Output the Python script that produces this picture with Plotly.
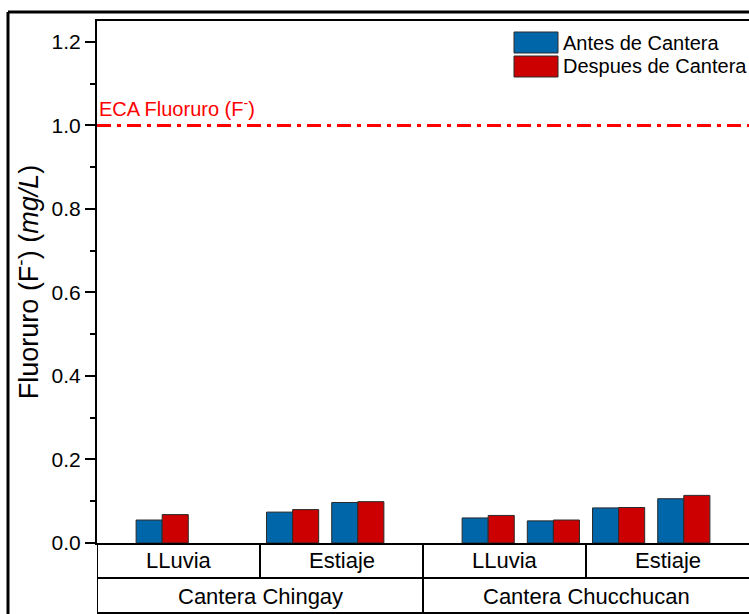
import plotly.graph_objects as go

# ---- data ----
slot_x = [1, 2, 3, 4, 6, 7, 8, 9]
antes = [0.055, None, 0.074, 0.097, 0.060, 0.053, 0.084, 0.106]
despues = [0.068, None, 0.080, 0.099, 0.066, 0.055, 0.085, 0.114]
sub_labels = ["LLuvia", "Estiaje", "LLuvia", "Estiaje"]
sub_bounds = [0, 2.5, 5, 7.5, 10]
main_labels = ["Cantera Chingay", "Cantera Chucchucan"]
main_bounds = [0, 5, 10]
series_names = ["Antes de Cantera", "Despues de Cantera"]
series_colors = ["#0066AA", "#CC0000"]
eca_value = 1.0
eca_label = "ECA Fluoruro (F<sup>-</sup>)"
y_ticks = [0.0, 0.2, 0.4, 0.6, 0.8, 1.0, 1.2]

W, H = 749, 614
L, T, R, B = 97, 21, 0, 71
pw, ph = W - L - R, H - T - B

FONT = "Liberation Sans, Arial, sans-serif"

fig = go.Figure()
for name, vals, col in zip(series_names, [antes, despues], series_colors):
    fig.add_trace(go.Bar(
        x=slot_x, y=vals, name=name, marker_color=col,
        marker_line=dict(color="#2a2a2a", width=1), showlegend=False))

fig.update_layout(
    width=W, height=H, barmode="group", bargap=0.2, bargroupgap=0,
    margin=dict(l=L, r=R, t=T, b=B, pad=0, autoexpand=False),
    paper_bgcolor="white", plot_bgcolor="white",
    font=dict(family=FONT, color="black"),
)
fig.update_xaxes(range=[0, 10], showgrid=False, zeroline=False, showticklabels=False,
                 showline=True, linecolor="black", linewidth=2, mirror=True, ticks="")
fig.update_yaxes(range=[0, 1.25], showgrid=False, zeroline=False, tickvals=y_ticks,
                 ticktext=[f"{v:.1f}" for v in y_ticks], ticks="outside", ticklen=10,
                 tickwidth=2, tickcolor="black", showline=True, linecolor="black",
                 linewidth=2, mirror=False, tickfont=dict(size=21, family=FONT),
                 automargin=False,
                 minor=dict(tickvals=[0.1, 0.3, 0.5, 0.7, 0.9, 1.1], ticks="outside",
                            ticklen=5, tickwidth=2, tickcolor="black"),
                 title=dict(text="Fluoruro (F<sup>-</sup>) (<i>mg/L</i>)",
                            font=dict(size=27, family=FONT), standoff=5))

# ECA reference line
fig.add_shape(type="line", xref="paper", yref="y", x0=0, x1=1, y0=eca_value, y1=eca_value,
              line=dict(color="#FF0000", width=3, dash="14px,6px,4px,6px"))
fig.add_annotation(xref="paper", yref="y", x=0, y=eca_value, text=eca_label,
                   showarrow=False, xanchor="left", yanchor="bottom", xshift=0, yshift=3,
                   font=dict(size=20, color="#FF0000", family=FONT))

# hierarchical category table below the axis
def py(pix):  # pixel y from top -> paper
    return (H - B - pix) / ph

def px(pix):
    return (pix - L) / pw

row1_bot, row2_bot = 578, 614
line = dict(color="black", width=2)
fig.add_shape(type="line", xref="paper", yref="paper", x0=0, x1=1,
              y0=py(row1_bot), y1=py(row1_bot), line=line)
fig.add_shape(type="line", xref="paper", yref="paper", x0=0, x1=1,
              y0=py(row2_bot - 1), y1=py(row2_bot - 1), line=line)
for b in sub_bounds[:-1]:
    fig.add_shape(type="line", xref="x", yref="paper", x0=b, x1=b,
                  y0=0, y1=py(row1_bot), line=line)
for b in main_bounds[:-1]:
    fig.add_shape(type="line", xref="x", yref="paper", x0=b, x1=b,
                  y0=py(row1_bot), y1=py(row2_bot), line=line)
for i, lab in enumerate(sub_labels):
    fig.add_annotation(xref="x", yref="paper", x=(sub_bounds[i] + sub_bounds[i + 1]) / 2,
                       y=py((543 + row1_bot) / 2), text=lab, showarrow=False,
                       xanchor="center", yanchor="middle",
                       font=dict(size=22, family=FONT))
for i, lab in enumerate(main_labels):
    fig.add_annotation(xref="x", yref="paper", x=(main_bounds[i] + main_bounds[i + 1]) / 2,
                       y=py((row1_bot + row2_bot) / 2), text=lab, showarrow=False,
                       xanchor="center", yanchor="middle",
                       font=dict(size=22, family=FONT))

# outer frame
fig.add_shape(type="line", xref="paper", yref="paper", x0=px(8), x1=px(8),
              y0=py(12), y1=py(H + 2), line=dict(color="black", width=3))
fig.add_shape(type="line", xref="paper", yref="paper", x0=px(8), x1=px(W + 2),
              y0=py(12), y1=py(12), line=dict(color="black", width=3))

# legend (custom swatches)
for i, (name, col) in enumerate(zip(series_names, series_colors)):
    y0, y1 = 32 + i * 24, 53 + i * 24
    fig.add_shape(type="rect", xref="paper", yref="paper", x0=px(514), x1=px(558),
                  y0=py(y1), y1=py(y0), fillcolor=col, line=dict(color="#2a2a2a", width=1))
    fig.add_annotation(xref="paper", yref="paper", x=px(561), y=py((y0 + y1) / 2),
                       text=name, showarrow=False, xanchor="left", yanchor="middle",
                       font=dict(size=20, family=FONT))

fig.write_html("out.html", config={"displayModeBar": False},
               post_script="document.body.style.margin='0';document.body.style.overflow='hidden';")
